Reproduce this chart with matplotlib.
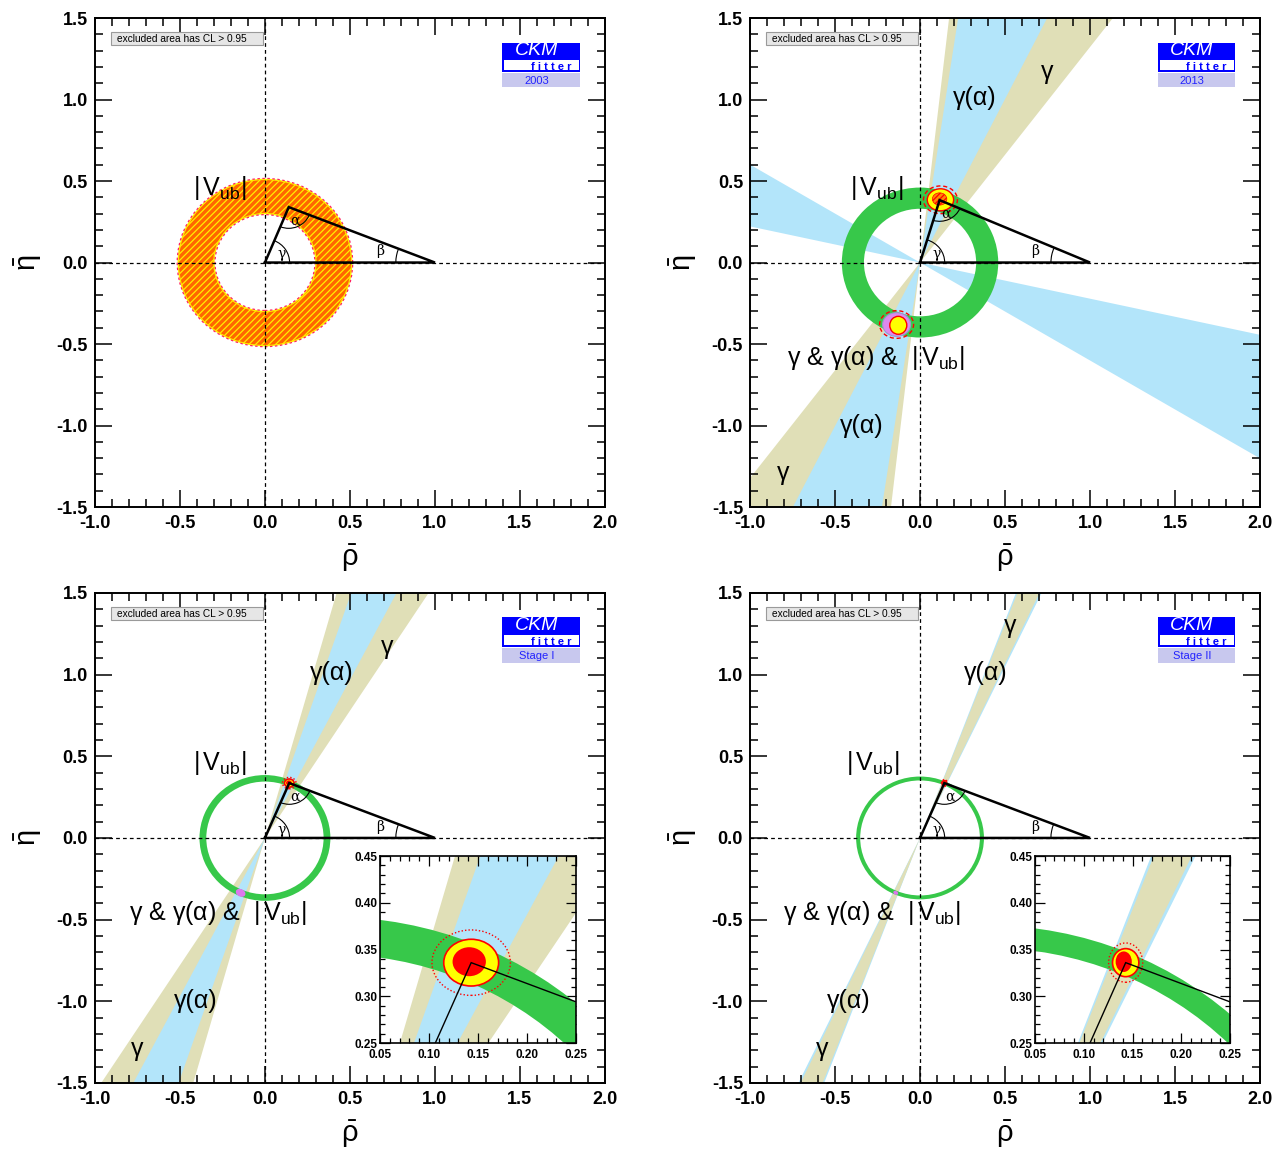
import matplotlib
matplotlib.use('Agg')
import matplotlib.pyplot as plt
import numpy as np
from matplotlib.patches import Wedge, Ellipse, Rectangle, Arc, Circle
from matplotlib.ticker import MultipleLocator

plt.rcParams['font.family'] = ['Liberation Sans', 'DejaVu Sans']
plt.rcParams['mathtext.fontset'] = 'custom'
plt.rcParams['mathtext.rm'] = 'Liberation Sans'
plt.rcParams['mathtext.it'] = 'Liberation Sans:italic'
plt.rcParams['mathtext.bf'] = 'Liberation Sans:bold'
plt.rcParams['hatch.linewidth'] = 0.9

# ---- data ----
years = ['2003', '2013', 'Stage I', 'Stage II']
vub_inner = [0.30, 0.33, 0.345, 0.352]
vub_outer = [0.51, 0.46, 0.385, 0.376]
gamma_band = [None, (52.9, 83.5), (57.3, 74.3), (64.9, 69.1)]     # degrees
galpha_bands = [[], [(63.5, 81.5), (-31.0, -12.5)], [(62.7, 71.3)], [(64.5, 69.4)]]
apex_rho = [0.14, 0.115, 0.143, 0.143]
apex_eta = [0.34, 0.383, 0.336, 0.336]
# fit contours (semi-axes in rho, eta) for the future stages
cl_inner = [None, None, (0.017, 0.0155), (0.0083, 0.011)]
cl_mid = [None, None, (0.028, 0.025), (0.0135, 0.015)]
cl_outer = [None, None, (0.040, 0.035), (0.0175, 0.021)]
# 2013 fit: two solutions
sol_rho = [0.12, -0.138]
sol_eta = [0.385, -0.38]

xticks = np.arange(-1.0, 2.01, 0.5)
yticks = np.arange(-1.5, 1.51, 0.5)
inset_xticks = np.arange(0.05, 0.251, 0.05)
inset_yticks = np.arange(0.25, 0.451, 0.05)

C_GAMMA = '#e0dfb7'
C_GALPHA = '#b3e5fa'
C_VUB = '#37c84a'

fig = plt.figure(figsize=(12.83, 11.5), dpi=100)
main_pos = [(0.0740, 0.5591, 0.3975, 0.4252), (0.5846, 0.5591, 0.3975, 0.4252),
            (0.0740, 0.0583, 0.3975, 0.4261), (0.5846, 0.0583, 0.3975, 0.4261)]
inset_pos = [None, None, (0.2962, 0.0930, 0.1528, 0.1626), (0.8067, 0.0930, 0.1520, 0.1626)]

label_pos = [
    {'vub': (-0.265, 0.46)},
    {'ga_up': (0.32, 1.01), 'g_up': (0.747, 1.17), 'vub': (-0.253, 0.457),
     'all': (-0.262, -0.586), 'ga_dn': (-0.341, -1.0), 'g_dn': (-0.806, -1.29)},
    {'ga_up': (0.394, 1.01), 'g_up': (0.718, 1.17), 'vub': (-0.265, 0.46),
     'all': (-0.276, -0.46), 'ga_dn': (-0.41, -1.0), 'g_dn': (-0.75, -1.29)},
    {'ga_up': (0.388, 1.01), 'g_up': (0.529, 1.30), 'vub': (-0.276, 0.46),
     'all': (-0.282, -0.46), 'ga_dn': (-0.418, -1.0), 'g_dn': (-0.576, -1.29)},
]
VUB = r'$|\,\mathrm{V}_{\mathrm{ub}}|$'
label_text = {'vub': VUB, 'ga_up': 'γ(α)', 'g_up': 'γ', 'ga_dn': 'γ(α)', 'g_dn': 'γ',
              'all': 'γ & γ(α) &  ' + VUB}


def draw_bands(ax, i):
    layers = []
    if gamma_band[i]:
        layers.append((gamma_band[i][1] - gamma_band[i][0], [gamma_band[i]], C_GAMMA))
    if galpha_bands[i]:
        w = max(b[1] - b[0] for b in galpha_bands[i])
        layers.append((w, galpha_bands[i], C_GALPHA))
    layers.sort(key=lambda l: -l[0])
    for _, bands, col in layers:
        for t1, t2 in bands:
            for off in (0, 180):
                ax.add_patch(Wedge((0, 0), 5, t1 + off, t2 + off, facecolor=col,
                                   edgecolor='none', zorder=1))


def draw_ring(ax, i):
    r0, r1 = vub_inner[i], vub_outer[i]
    if i == 0:
        ax.add_patch(Wedge((0, 0), r1, 0, 360, width=r1 - r0, facecolor='#ff6600',
                           edgecolor='#ffee00', hatch='/////', lw=1.0, zorder=2))
        for r in (r0 - 0.006, r1 + 0.006):
            ax.add_patch(Circle((0, 0), r, fill=False, edgecolor='#ff2060', lw=0.9,
                                ls=(0, (2, 2)), zorder=2))
    else:
        ax.add_patch(Wedge((0, 0), r1, 0, 360, width=r1 - r0, facecolor=C_VUB,
                           edgecolor='none', zorder=2))


def draw_contours(ax, i):
    if i == 1:
        # main solution
        x, y = sol_rho[0], sol_eta[0]
        ax.add_patch(Ellipse((x, y), 0.2, 0.17, fill=False, edgecolor='red', lw=1,
                             ls=(0, (3, 2)), zorder=3))
        ax.add_patch(Ellipse((x, y), 0.155, 0.135, facecolor='yellow', edgecolor='red',
                             lw=1, zorder=3))
        ax.add_patch(Ellipse((x - 0.005, y + 0.005), 0.085, 0.075, facecolor='#ff8a00',
                             edgecolor='red', hatch='//////', lw=0.5, zorder=3))
        # mirror solution
        x, y = sol_rho[1], sol_eta[1]
        ax.add_patch(Ellipse((x, y), 0.2, 0.17, fill=False, edgecolor='red', lw=1,
                             ls=(0, (3, 2)), zorder=3))
        ax.add_patch(Ellipse((x, y), 0.165, 0.145, facecolor='#dd88ee', edgecolor='#9999cc',
                             lw=0.8, zorder=3))
        ax.add_patch(Ellipse((x + 0.01, y - 0.005), 0.1, 0.11, facecolor='yellow',
                             edgecolor='red', lw=1, zorder=3))
    elif i >= 2:
        c = (apex_rho[i], apex_eta[i])
        a, b = cl_outer[i]
        ax.add_patch(Ellipse(c, 2 * a, 2 * b, fill=False, edgecolor='red', lw=1,
                             ls=(0, (1, 1.5)), zorder=3))
        a, b = cl_mid[i]
        ax.add_patch(Ellipse(c, 2 * a, 2 * b, facecolor='yellow', edgecolor='red',
                             lw=1.2, zorder=3))
        a, b = cl_inner[i]
        ax.add_patch(Ellipse((c[0] - 0.002, c[1] + 0.001), 2 * a, 2 * b, facecolor='red',
                             edgecolor='none', zorder=3))


def draw_triangle(ax, i, lw, arcs):
    x, y = apex_rho[i], apex_eta[i]
    ax.plot([0, x, 1, 0], [0, y, 0, 0], color='black', lw=lw, zorder=5,
            solid_joinstyle='miter')
    if not arcs:
        return
    g = np.degrees(np.arctan2(y, x))
    ax.add_patch(Arc((0, 0), 0.29, 0.29, theta1=0, theta2=g, lw=0.8, zorder=5))
    a1 = np.degrees(np.arctan2(-y, -x))
    a2 = np.degrees(np.arctan2(-y, 1 - x))
    ax.add_patch(Arc((x, y), 0.26, 0.26, theta1=a1, theta2=a2, lw=0.8, zorder=5))
    b = np.degrees(np.arctan2(y, x - 1))
    ax.add_patch(Arc((1, 0), 0.46, 0.46, theta1=b, theta2=180, lw=0.8, zorder=5))
    ax.text(0.1, 0.05, 'γ', fontsize=10, ha='center', va='center', zorder=6,
            family=['DejaVu Serif'])
    ax.text(x + 0.035, y - 0.085, 'α', fontsize=10, ha='center', va='center', zorder=6,
            family=['DejaVu Serif'])
    ax.text(0.675, 0.07, 'β', fontsize=10, ha='center', va='center', zorder=6,
            family=['DejaVu Serif'])


def draw_logo(ax, i):
    t = ax.transAxes
    ax.add_patch(Rectangle((0.799, 0.890), 0.152, 0.060, transform=t, facecolor='#0000ff',
                           edgecolor='none', zorder=10))
    ax.add_patch(Rectangle((0.803, 0.893), 0.146, 0.021, transform=t, facecolor='white',
                           edgecolor='none', zorder=11))
    ax.add_patch(Rectangle((0.799, 0.858), 0.152, 0.029, transform=t, facecolor='#c8c8ee',
                           edgecolor='none', zorder=10))
    ax.text(0.866, 0.9235, 'CKM', transform=t, color='white', fontsize=14, style='italic',
            ha='center', va='baseline', zorder=12)
    ax.text(0.895, 0.8945, 'f i t t e r', transform=t, color='#0000ff', fontsize=8,
            weight='bold', ha='center', va='baseline', zorder=12)
    ax.text(0.866, 0.871, years[i], transform=t, color='#2222ff', fontsize=8,
            ha='center', va='center', zorder=12)


for i in range(4):
    ax = fig.add_axes(main_pos[i])
    ax.set_xlim(-1, 2)
    ax.set_ylim(-1.5, 1.5)
    draw_bands(ax, i)
    draw_ring(ax, i)
    draw_contours(ax, i)
    if i >= 2:
        ax.add_patch(Ellipse((-apex_rho[i], -apex_eta[i]), 0.06 if i == 2 else 0.03,
                             0.045 if i == 2 else 0.022, angle=-30,
                             facecolor='#dd77ee', edgecolor='none', zorder=3))
    ax.axhline(0, color='black', lw=0.9, ls=(0, (3, 2.5)), zorder=4)
    ax.axvline(0, color='black', lw=0.9, ls=(0, (3, 2.5)), zorder=4)
    draw_triangle(ax, i, 1.8, True)

    for key, (x, y) in label_pos[i].items():
        ax.text(x, y, label_text[key], fontsize=18, ha='center', va='center', zorder=7)

    ax.add_patch(Rectangle((0.031, 0.945), 0.299, 0.027, transform=ax.transAxes,
                           facecolor='#e6e6e6', edgecolor='#9a9a9a', lw=0.8, zorder=10))
    ax.text(0.043, 0.958, 'excluded area has CL > 0.95', transform=ax.transAxes,
            fontsize=7.3, ha='left', va='center', zorder=11)
    draw_logo(ax, i)

    ax.set_xticks(xticks, ['%.1f' % v for v in xticks], fontweight='bold', fontsize=13)
    ax.set_yticks(yticks, ['%.1f' % v for v in yticks], fontweight='bold', fontsize=13)
    ax.xaxis.set_minor_locator(MultipleLocator(0.1))
    ax.yaxis.set_minor_locator(MultipleLocator(0.1))
    ax.tick_params(which='both', direction='in', top=True, right=True, width=1.1)
    ax.tick_params(which='major', length=12)
    ax.tick_params(which='minor', length=6)
    ax.tick_params(axis='x', pad=6)
    ax.tick_params(axis='y', pad=5)
    for s in ax.spines.values():
        s.set_linewidth(1.4)
    ax.text(0.5, -0.105, r'$\bar{\mathrm{\rho}}$', transform=ax.transAxes, fontsize=21,
            ha='center', va='center')
    ax.text(-0.131, 0.5, r'$\bar{\mathrm{\eta}}$', transform=ax.transAxes, fontsize=21,
            ha='center', va='center', rotation=90)

    if inset_pos[i]:
        axi = fig.add_axes(inset_pos[i])
        axi.set_facecolor('white')
        axi.set_xlim(0.05, 0.25)
        axi.set_ylim(0.25, 0.45)
        draw_bands(axi, i)
        draw_ring(axi, i)
        draw_contours(axi, i)
        draw_triangle(axi, i, 1.0, False)
        axi.set_xticks(inset_xticks, ['%.2f' % v for v in inset_xticks], fontweight='bold',
                       fontsize=8.5)
        axi.set_yticks(inset_yticks, ['%.2f' % v for v in inset_yticks], fontweight='bold',
                       fontsize=8.5)
        axi.xaxis.set_minor_locator(MultipleLocator(0.01))
        axi.yaxis.set_minor_locator(MultipleLocator(0.01))
        axi.tick_params(which='both', direction='in', top=True, right=True, width=0.9)
        axi.tick_params(which='major', length=7)
        axi.tick_params(which='minor', length=3.5)
        axi.tick_params(axis='x', pad=4.5)
        axi.tick_params(axis='y', pad=2)
        for s in axi.spines.values():
            s.set_linewidth(1.2)

fig.savefig('out.png', dpi=100)
